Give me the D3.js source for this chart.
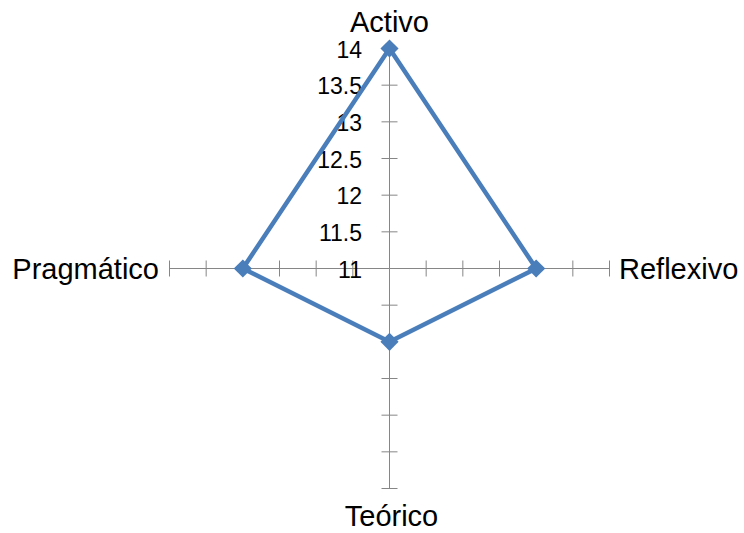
<!DOCTYPE html>
<html>
<head>
<meta charset="utf-8">
<script src="https://cdn.jsdelivr.net/npm/d3@7"></script>
<style>
  body { margin: 0; background: #fff; }
  text { font-family: "Liberation Sans", Arial, sans-serif; fill: #000; }
</style>
</head>
<body>
<svg></svg>
<script>
var categories = ['Activo', 'Reflexivo', 'Teórico', 'Pragmático'];
var values = [14, 13, 12, 13];
var tickValues = [11, 11.5, 12, 12.5, 13, 13.5, 14];

var svgWidth = 744, svgHeight = 533;
var cx = 389.5, cy = 268.5, radius = 220;

var svg = d3.select('svg')
    .attr('width', svgWidth)
    .attr('height', svgHeight);

var rScale = d3.scaleLinear()
    .domain([11, 14])
    .range([0, radius]);

// angle of each axis, starting at top and going clockwise
var angle = d3.scalePoint()
    .domain(categories)
    .range([0, 2 * Math.PI * (categories.length - 1) / categories.length]);

function pos(cat, v) {
  var a = angle(cat), r = rScale(v);
  return [cx + r * Math.sin(a), cy - r * Math.cos(a)];
}

var g = svg.append('g');

// spokes
g.selectAll('line.spoke')
    .data(categories)
    .enter()
    .append('line')
    .attr('class', 'spoke')
    .attr('x1', cx).attr('y1', cy)
    .attr('x2', function(d) { return pos(d, 14)[0]; })
    .attr('y2', function(d) { return pos(d, 14)[1]; })
    .attr('stroke', '#868686')
    .attr('stroke-width', 1);

// cross tick marks on every spoke
var tickPairs = [];
categories.forEach(function(c) {
  tickValues.slice(1).forEach(function(t) { tickPairs.push({c: c, t: t}); });
});
var tickLen = 8;
g.selectAll('line.tick')
    .data(tickPairs)
    .enter()
    .append('line')
    .attr('class', 'tick')
    .attr('x1', function(d) { var p = pos(d.c, d.t), a = angle(d.c); return p[0] - tickLen * Math.cos(a); })
    .attr('y1', function(d) { var p = pos(d.c, d.t), a = angle(d.c); return p[1] - tickLen * Math.sin(a); })
    .attr('x2', function(d) { var p = pos(d.c, d.t), a = angle(d.c); return p[0] + tickLen * Math.cos(a); })
    .attr('y2', function(d) { var p = pos(d.c, d.t), a = angle(d.c); return p[1] + tickLen * Math.sin(a); })
    .attr('stroke', '#868686')
    .attr('stroke-width', 1);

// value labels on the top axis
g.selectAll('text.val')
    .data(tickValues)
    .enter()
    .append('text')
    .attr('class', 'val')
    .attr('x', cx - 27.5)
    .attr('y', function(d) { return pos(categories[0], d)[1] + 1; })
    .attr('text-anchor', 'end')
    .attr('dominant-baseline', 'central')
    .style('font-size', '23px')
    .text(function(d) { return d; });

// data polygon
var line = d3.line()
    .x(function(d, i) { return pos(categories[i], d)[0]; })
    .y(function(d, i) { return pos(categories[i], d)[1]; })
    .curve(d3.curveLinearClosed);

g.append('path')
    .datum(values)
    .attr('d', line)
    .attr('fill', 'none')
    .attr('stroke', '#4A7EBB')
    .attr('stroke-width', 4.5)
    .attr('stroke-linejoin', 'round');

// diamond markers
var diamond = d3.symbol().type(d3.symbolSquare).size(165);
g.selectAll('path.marker')
    .data(values)
    .enter()
    .append('path')
    .attr('class', 'marker')
    .attr('d', diamond)
    .attr('transform', function(d, i) {
      var p = pos(categories[i], d);
      return 'translate(' + p + ') rotate(45)';
    })
    .attr('fill', '#4A7EBB');

// category labels
var labelPos = {
  'Activo':     {dx: 0,      dy: -16.5, anchor: 'middle', base: 'auto'},
  'Reflexivo':  {dx: 9.5,    dy: 0,     anchor: 'start',  base: 'central'},
  'Teórico':    {dx: 2,      dy: 37.5,  anchor: 'middle', base: 'auto'},
  'Pragmático': {dx: -10.5,  dy: 0,     anchor: 'end',    base: 'central'}
};
g.selectAll('text.cat')
    .data(categories)
    .enter()
    .append('text')
    .attr('class', 'cat')
    .attr('x', function(d) { return pos(d, 14)[0] + labelPos[d].dx; })
    .attr('y', function(d) { return pos(d, 14)[1] + labelPos[d].dy; })
    .attr('text-anchor', function(d) { return labelPos[d].anchor; })
    .attr('dominant-baseline', function(d) { return labelPos[d].base; })
    .style('font-size', '29px')
    .text(function(d) { return d; });
</script>
</body>
</html>
